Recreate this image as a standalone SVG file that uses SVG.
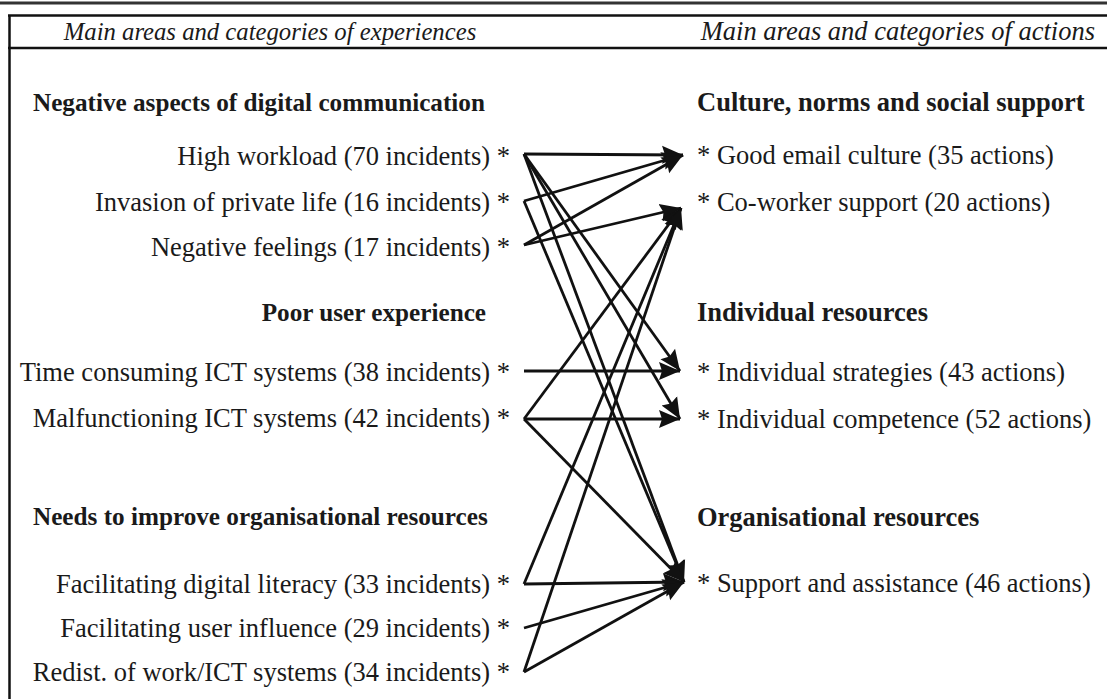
<svg xmlns="http://www.w3.org/2000/svg" width="1107" height="699" viewBox="0 0 1107 699">
<style>
text{font-family:"Liberation Serif","Times New Roman",serif;font-size:26.5px;fill:#1a1a1a}
.h{font-style:italic;font-size:24.7px}
.hr{font-style:italic;font-size:26.5px}
.b{font-weight:bold;font-size:25.2px}
.br{font-weight:bold;font-size:26.5px}
.l{text-anchor:end}
.frame{stroke:#111;fill:none}
.c line{stroke:#111;stroke-width:2.8;marker-end:url(#ah)}
</style>
<defs>
<marker id="ah" markerUnits="userSpaceOnUse" markerWidth="24" markerHeight="20" refX="21" refY="10" orient="auto" viewBox="0 0 24 20">
<path d="M0,1 L21,10 L0,19 L3,10 Z" fill="#111"/>
</marker>
</defs>
<g id="frame">
<line class="frame" x1="0" y1="3" x2="1107" y2="3" stroke-width="3" style="stroke:#333"/>
<line class="frame" x1="8" y1="15.5" x2="1107" y2="15.5" stroke-width="2.5"/>
<line class="frame" x1="9.5" y1="15" x2="9.5" y2="699" stroke-width="2.5"/>
<line class="frame" x1="8" y1="48" x2="1107" y2="48" stroke-width="2.5"/>
</g>
<g id="headers">
<text class="h" x="270" y="40" text-anchor="middle">Main areas and categories of experiences</text>
<text class="hr" x="1095" y="40" text-anchor="end">Main areas and categories of actions</text>
</g>
<g id="left-areas">
<text class="b" x="33" y="111">Negative aspects of digital communication</text>
<text class="b l" x="486" y="321">Poor user experience</text>
<text class="b" x="33" y="525">Needs to improve organisational resources</text>
</g>
<g id="right-areas">
<text class="br" x="697" y="111">Culture, norms and social support</text>
<text class="br" x="697" y="321">Individual resources</text>
<text class="br" x="697" y="526">Organisational resources</text>
</g>
<g id="n-high"><text class="l" x="510" y="165">High workload (70 incidents) *</text></g>
<g id="n-invasion"><text class="l" x="510" y="211">Invasion of private life (16 incidents) *</text></g>
<g id="n-negative"><text class="l" x="510" y="256">Negative feelings (17 incidents) *</text></g>
<g id="n-time"><text class="l" x="510" y="381">Time consuming ICT systems (38 incidents) *</text></g>
<g id="n-malf"><text class="l" x="510" y="427">Malfunctioning ICT systems (42 incidents) *</text></g>
<g id="n-literacy"><text class="l" x="510" y="593">Facilitating digital literacy (33 incidents) *</text></g>
<g id="n-influence"><text class="l" x="510" y="637">Facilitating user influence (29 incidents) *</text></g>
<g id="n-redist"><text class="l" x="510" y="681">Redist. of work/ICT systems (34 incidents) *</text></g>
<g id="a-email"><text x="697" y="164">* Good email culture (35 actions)</text></g>
<g id="a-cowork"><text x="697" y="211">* Co-worker support (20 actions)</text></g>
<g id="a-strat"><text x="697" y="381">* Individual strategies (43 actions)</text></g>
<g id="a-comp"><text x="697" y="428">* Individual competence (52 actions)</text></g>
<g id="a-support"><text x="697" y="592">* Support and assistance (46 actions)</text></g>
<g id="connectors" class="c">
<line x1="524" y1="154" x2="683" y2="155"/>
<line x1="524" y1="154" x2="680" y2="371"/>
<line x1="524" y1="154" x2="680" y2="419"/>
<line x1="524" y1="154" x2="684" y2="582"/>
<line x1="524" y1="201" x2="683" y2="155"/>
<line x1="524" y1="201" x2="684" y2="582"/>
<line x1="524" y1="245" x2="683" y2="155"/>
<line x1="524" y1="245" x2="681" y2="208"/>
<line x1="524" y1="371" x2="680" y2="371"/>
<line x1="524" y1="419" x2="680" y2="419"/>
<line x1="524" y1="419" x2="681" y2="208"/>
<line x1="524" y1="419" x2="684" y2="582"/>
<line x1="524" y1="584" x2="684" y2="582"/>
<line x1="524" y1="584" x2="681" y2="208"/>
<line x1="524" y1="628" x2="684" y2="582"/>
<line x1="524" y1="672" x2="684" y2="582"/>
<line x1="524" y1="672" x2="681" y2="208"/>
</g>
</svg>
